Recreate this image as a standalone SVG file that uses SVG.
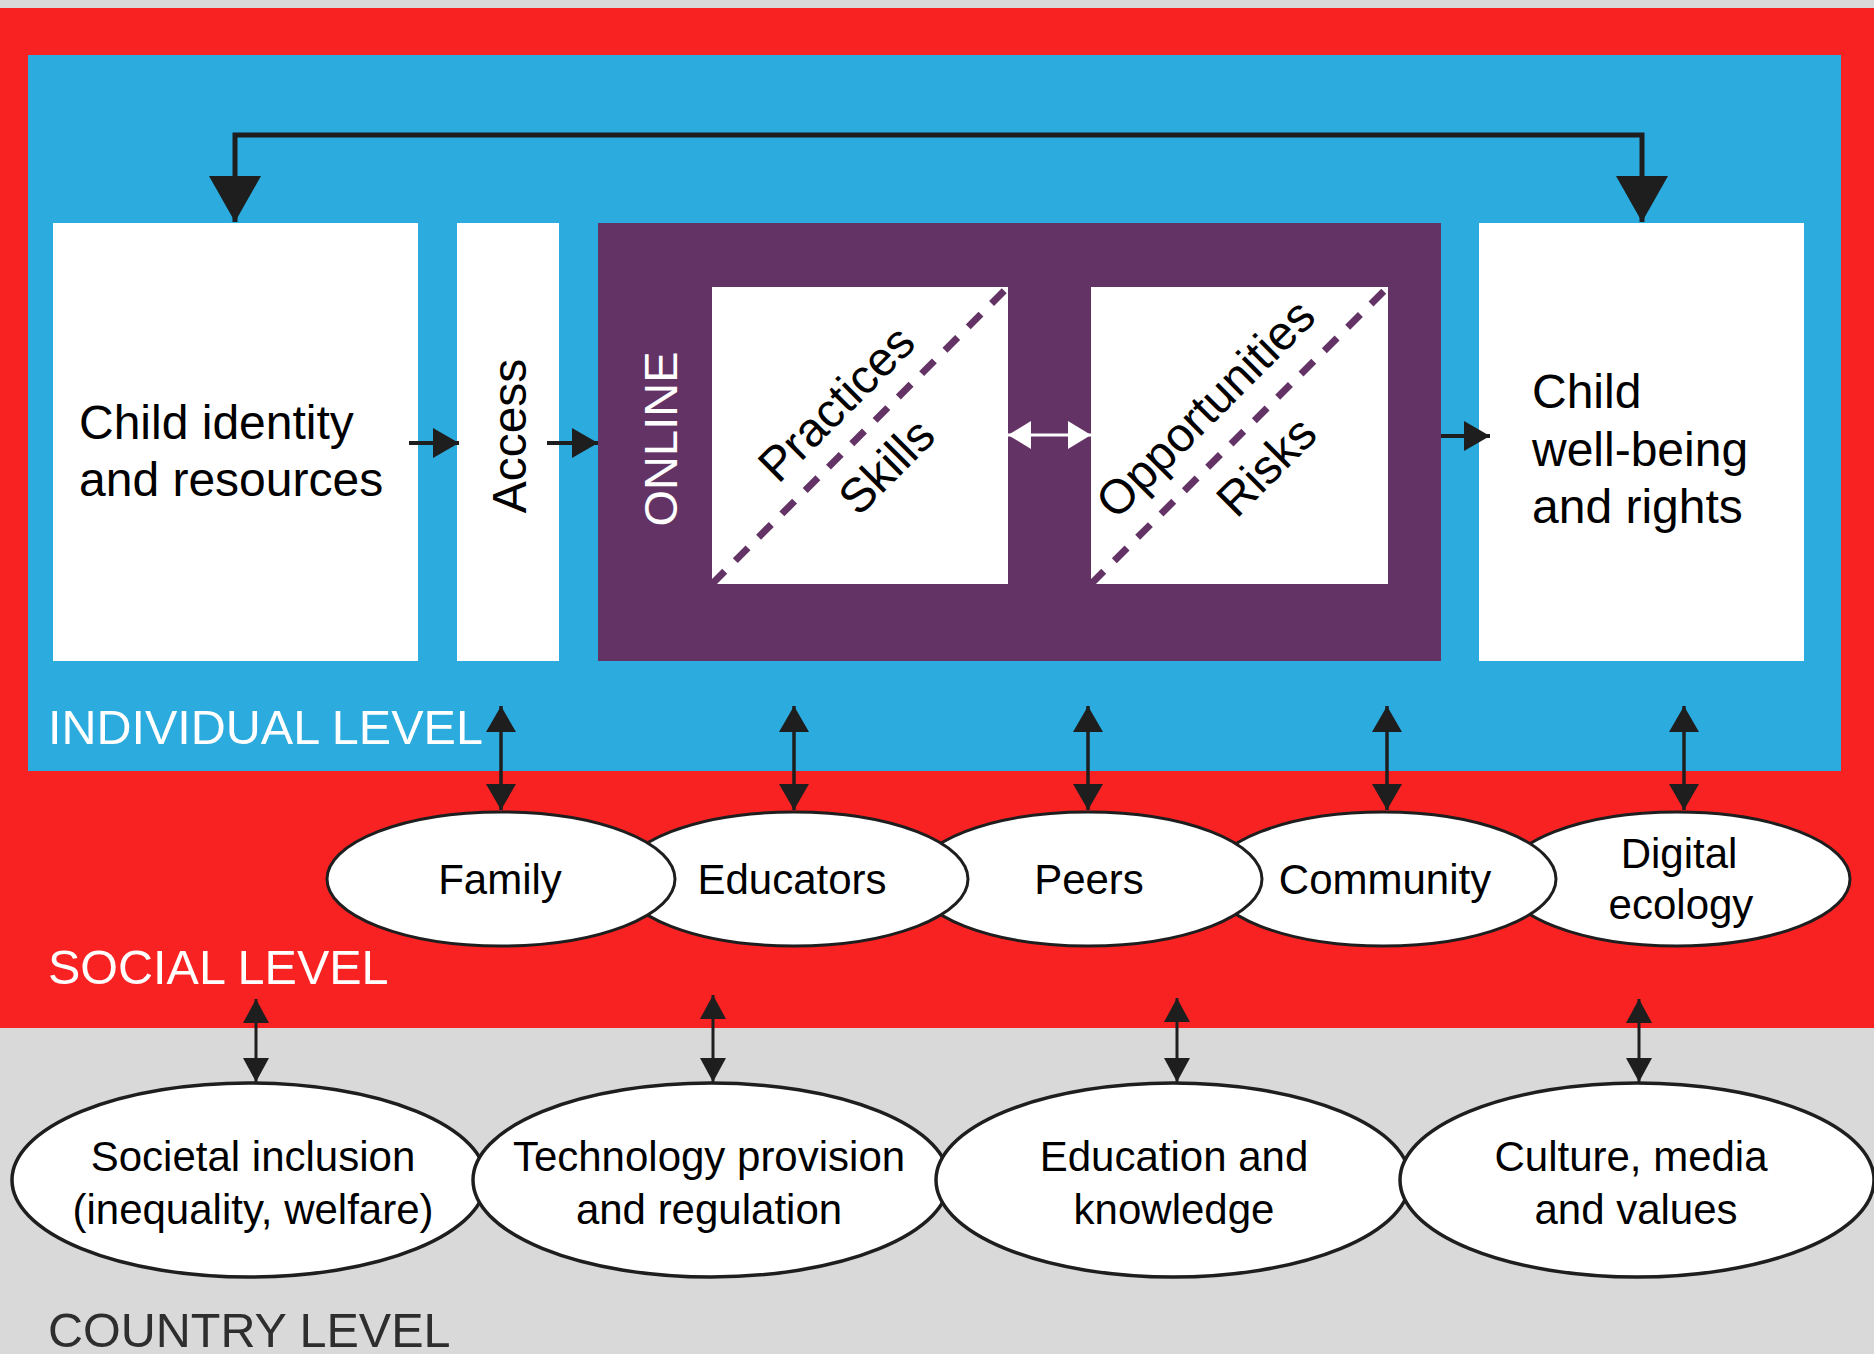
<svg xmlns="http://www.w3.org/2000/svg" width="1874" height="1354" viewBox="0 0 1874 1354">
<defs>
<style>
.t{font-family:"Liberation Sans",Arial,sans-serif;fill:#000}
.big{font-size:48px}
.mid{font-size:42px}
.lvl{font-family:"Liberation Sans",Arial,sans-serif;font-size:48.5px;fill:#fff}
.box{fill:#fff}
.ell{fill:#fff;stroke:#1e1e1e;stroke-width:3}
.ellc{fill:#fff;stroke:#1e1e1e;stroke-width:3.5}
.con{stroke:#1e1e1e;fill:none}
.dash{stroke:#643366;stroke-width:7;stroke-dasharray:18 15;fill:none}
</style>
<marker id="ah" markerUnits="userSpaceOnUse" markerWidth="26" markerHeight="30" refX="26" refY="15" orient="auto-start-reverse"><path d="M0,0 L26,15 L0,30 z" fill="#1e1e1e"/></marker>
<marker id="ahs" markerUnits="userSpaceOnUse" markerWidth="24" markerHeight="26" refX="24" refY="13" orient="auto-start-reverse"><path d="M0,0 L24,13 L0,26 z" fill="#1e1e1e"/></marker>
<marker id="ahb" markerUnits="userSpaceOnUse" markerWidth="46" markerHeight="52" refX="46" refY="26" orient="auto-start-reverse"><path d="M0,0 L46,26 L0,52 z" fill="#1e1e1e"/></marker>
<marker id="ahw" markerUnits="userSpaceOnUse" markerWidth="23" markerHeight="28" refX="23" refY="14" orient="auto-start-reverse"><path d="M0,0 L23,14 L0,28 z" fill="#fff"/></marker>
</defs>

<g id="background">
<rect x="0" y="0" width="1874" height="1354" fill="#d9d9d9"/>
<rect x="0" y="8" width="1874" height="1020" fill="#f92222"/>
<rect x="28" y="55" width="1813" height="716" fill="#2cabdf"/>
<text class="lvl" x="48" y="744">INDIVIDUAL LEVEL</text>
<text class="lvl" x="48" y="984">SOCIAL LEVEL</text>
<text class="lvl" x="48" y="1347" style="fill:#2e2e2e">COUNTRY LEVEL</text>
</g>

<g id="child-identity">
<rect class="box" x="53" y="223" width="365" height="438"/>
<text class="t big" x="79" y="439">Child identity</text>
<text class="t big" x="79" y="496">and resources</text>
</g>

<g id="access">
<rect class="box" x="457" y="223" width="102" height="438"/>
<text class="t big" text-anchor="middle" transform="translate(526,436) rotate(-90)">Access</text>
</g>

<g id="online">
<rect x="598" y="223" width="843" height="438" fill="#643366"/>
<text class="t" text-anchor="middle" style="font-size:47px;fill:#fff" transform="translate(677,439) rotate(-90)">ONLINE</text>
</g>

<g id="practices-skills">
<rect class="box" x="712" y="287" width="296" height="297"/>
<line class="dash" x1="712" y1="584" x2="1008" y2="287"/>
<text class="t big" text-anchor="middle" transform="translate(848,415) rotate(-45)">Practices</text>
<text class="t big" text-anchor="middle" transform="translate(898,478) rotate(-45)">Skills</text>
</g>

<g id="opportunities-risks">
<rect class="box" x="1091" y="287" width="297" height="297"/>
<line class="dash" x1="1091" y1="584" x2="1388" y2="287"/>
<text class="t big" text-anchor="middle" transform="translate(1217,420) rotate(-45)">Opportunities</text>
<text class="t big" text-anchor="middle" transform="translate(1278,478) rotate(-45)">Risks</text>
</g>

<g id="child-wellbeing">
<rect class="box" x="1479" y="223" width="325" height="438"/>
<text class="t big" x="1532" y="408">Child</text>
<text class="t big" x="1532" y="466">well-being</text>
<text class="t big" x="1532" y="523">and rights</text>
</g>

<g id="social-nodes">
<g id="digital-ecology">
<ellipse class="ell" cx="1677" cy="879" rx="173" ry="67"/>
<text class="t mid" text-anchor="middle" x="1679" y="868">Digital</text>
<text class="t mid" text-anchor="middle" x="1681" y="919">ecology</text>
</g>
<g id="community">
<ellipse class="ell" cx="1383" cy="879" rx="173" ry="67"/>
<text class="t mid" text-anchor="middle" x="1385" y="894">Community</text>
</g>
<g id="peers">
<ellipse class="ell" cx="1088" cy="879" rx="174" ry="67"/>
<text class="t mid" text-anchor="middle" x="1089" y="894">Peers</text>
</g>
<g id="educators">
<ellipse class="ell" cx="794" cy="879" rx="174" ry="67"/>
<text class="t mid" text-anchor="middle" x="792" y="894">Educators</text>
</g>
<g id="family">
<ellipse class="ell" cx="501" cy="879" rx="174" ry="67"/>
<text class="t mid" text-anchor="middle" x="500" y="894">Family</text>
</g>
</g>

<g id="country-nodes">
<g id="societal-inclusion">
<ellipse class="ellc" cx="249" cy="1180" rx="237" ry="97"/>
<text class="t mid" text-anchor="middle" x="253" y="1171">Societal inclusion</text>
<text class="t mid" text-anchor="middle" x="253" y="1224">(inequality, welfare)</text>
</g>
<g id="technology">
<ellipse class="ellc" cx="711" cy="1180" rx="238" ry="97"/>
<text class="t mid" text-anchor="middle" x="709" y="1171">Technology provision</text>
<text class="t mid" text-anchor="middle" x="709" y="1224">and regulation</text>
</g>
<g id="education">
<ellipse class="ellc" cx="1173" cy="1180" rx="237" ry="97"/>
<text class="t mid" text-anchor="middle" x="1174" y="1171">Education and</text>
<text class="t mid" text-anchor="middle" x="1174" y="1224">knowledge</text>
</g>
<g id="culture">
<ellipse class="ellc" cx="1637" cy="1180" rx="237" ry="97"/>
<text class="t mid" text-anchor="middle" x="1631" y="1171">Culture, media</text>
<text class="t mid" text-anchor="middle" x="1636" y="1224">and values</text>
</g>
</g>

<g id="connectors">
<path class="con" d="M235,222 V135 H1642 V222" stroke-width="5" marker-start="url(#ahb)" marker-end="url(#ahb)"/>
<line class="con" x1="409" y1="443" x2="459" y2="443" stroke-width="4" marker-end="url(#ah)"/>
<line class="con" x1="547" y1="443" x2="598" y2="443" stroke-width="4" marker-end="url(#ah)"/>
<line class="con" x1="1441" y1="436" x2="1490" y2="436" stroke-width="4" marker-end="url(#ah)"/>
<line x1="1008" y1="435" x2="1091" y2="435" stroke="#fff" stroke-width="3" marker-start="url(#ahw)" marker-end="url(#ahw)"/>
<line class="con" x1="501" y1="706" x2="501" y2="810" stroke-width="3.5" marker-start="url(#ah)" marker-end="url(#ah)"/>
<line class="con" x1="794" y1="706" x2="794" y2="810" stroke-width="3.5" marker-start="url(#ah)" marker-end="url(#ah)"/>
<line class="con" x1="1088" y1="706" x2="1088" y2="810" stroke-width="3.5" marker-start="url(#ah)" marker-end="url(#ah)"/>
<line class="con" x1="1387" y1="706" x2="1387" y2="810" stroke-width="3.5" marker-start="url(#ah)" marker-end="url(#ah)"/>
<line class="con" x1="1684" y1="706" x2="1684" y2="810" stroke-width="3.5" marker-start="url(#ah)" marker-end="url(#ah)"/>
<line class="con" x1="256" y1="999" x2="256" y2="1082" stroke-width="3" marker-start="url(#ahs)" marker-end="url(#ahs)"/>
<line class="con" x1="713" y1="995" x2="713" y2="1082" stroke-width="3" marker-start="url(#ahs)" marker-end="url(#ahs)"/>
<line class="con" x1="1177" y1="998" x2="1177" y2="1082" stroke-width="3" marker-start="url(#ahs)" marker-end="url(#ahs)"/>
<line class="con" x1="1639" y1="999" x2="1639" y2="1082" stroke-width="3" marker-start="url(#ahs)" marker-end="url(#ahs)"/>
</g>
</svg>
